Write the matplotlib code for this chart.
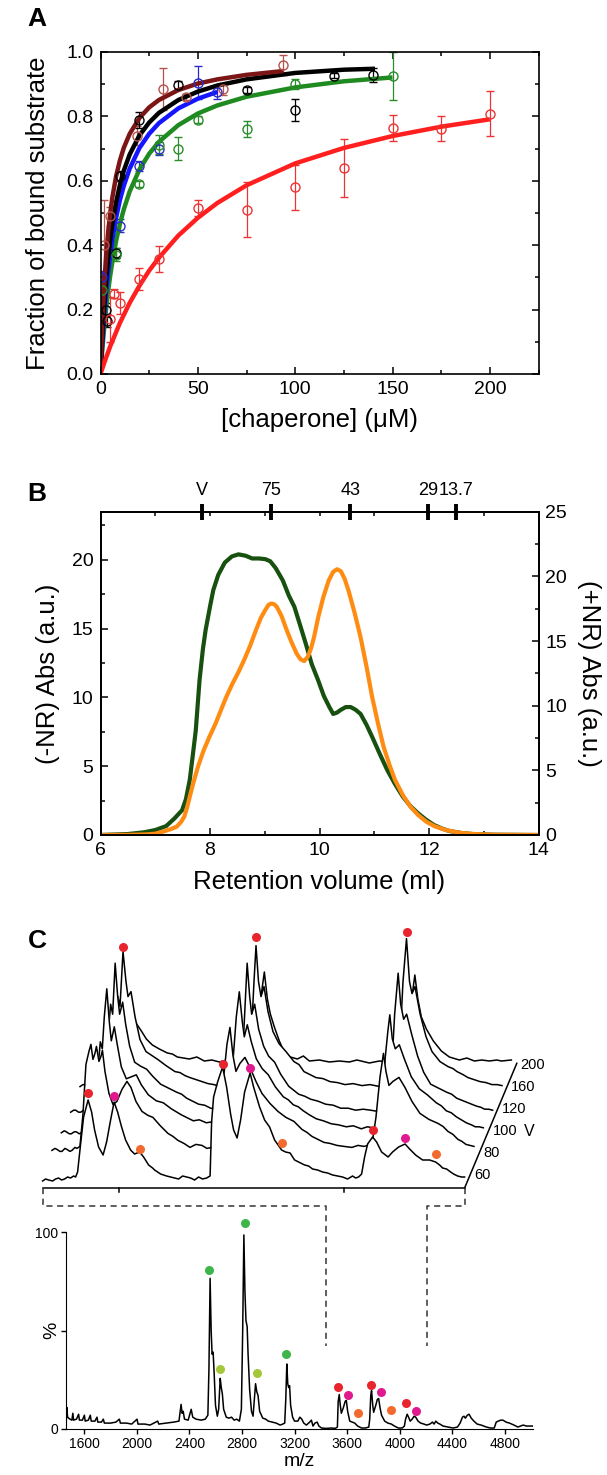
import matplotlib.pyplot as plt
import numpy as np
from matplotlib.lines import Line2D
from matplotlib.ticker import MultipleLocator

plt.rcParams['font.family'] = ['Liberation Sans', 'DejaVu Sans']

# ---------------- panel A data ----------------
brown_x = [2, 5, 19, 32, 44, 63, 94]
brown_y = [0.40, 0.49, 0.74, 0.885, 0.86, 0.885, 0.96]
brown_e = [0.14, 0.03, 0.03, 0.065, 0.01, 0.02, 0.03]
black_x = [3, 3.5, 8, 10, 20, 40, 75, 100, 120, 140]
black_y = [0.20, 0.165, 0.375, 0.615, 0.788, 0.897, 0.882, 0.82, 0.926, 0.929]
black_e = [0.02, 0.02, 0.015, 0.015, 0.025, 0.012, 0.008, 0.035, 0.008, 0.022]
blue_x = [1, 10, 20, 30, 50, 60]
blue_y = [0.30, 0.46, 0.645, 0.70, 0.905, 0.875]
blue_e = [0.02, 0.02, 0.015, 0.02, 0.05, 0.02]
green_x = [1, 8, 20, 30, 40, 50, 75, 100, 150]
green_y = [0.26, 0.37, 0.59, 0.712, 0.70, 0.79, 0.76, 0.90, 0.925]
green_e = [0.02, 0.02, 0.01, 0.03, 0.035, 0.01, 0.025, 0.015, 0.075]
red_x = [5, 7, 10, 20, 30, 50, 75, 100, 125, 150, 175, 200]
red_y = [0.17, 0.25, 0.22, 0.295, 0.357, 0.515, 0.51, 0.58, 0.64, 0.763, 0.762, 0.808]
red_e = [0.07, 0.015, 0.035, 0.035, 0.04, 0.025, 0.085, 0.07, 0.09, 0.04, 0.038, 0.07]

# fitted curves
fit_brown_x = [0, 1, 2, 3, 4, 5, 6, 8, 10, 12, 15, 20, 25, 30, 40, 50, 60, 75, 94]
fit_brown_y = [0, 0.168, 0.287, 0.376, 0.445, 0.50, 0.545, 0.614, 0.664, 0.703, 0.746, 0.795,
               0.828, 0.851, 0.882, 0.902, 0.915, 0.929, 0.941]
fit_black_x = [0, 1, 2, 3, 4, 5, 6, 8, 10, 12, 15, 20, 25, 30, 40, 50, 60, 75, 100, 125, 141]
fit_black_y = [0, 0.125, 0.222, 0.300, 0.364, 0.417, 0.462, 0.533, 0.588, 0.632, 0.682, 0.741,
               0.781, 0.811, 0.851, 0.877, 0.896, 0.915, 0.935, 0.945, 0.948]
fit_blue_x = [0, 1, 2, 3, 4, 5, 6, 8, 10, 12, 15, 20, 25, 30, 40, 50, 60]
fit_blue_y = [0, 0.105, 0.190, 0.261, 0.320, 0.370, 0.414, 0.485, 0.541, 0.585, 0.638, 0.702,
              0.746, 0.779, 0.825, 0.855, 0.876]
fit_green_x = [0, 1, 2, 3, 4, 5, 6, 8, 10, 12, 15, 20, 25, 30, 40, 50, 60, 75, 100, 125, 150]
fit_green_y = [0, 0.081, 0.150, 0.209, 0.261, 0.306, 0.345, 0.413, 0.467, 0.512, 0.567, 0.635,
               0.684, 0.721, 0.773, 0.809, 0.834, 0.861, 0.890, 0.909, 0.921]
fit_red_x = [0, 2, 5, 10, 15, 20, 25, 30, 40, 50, 60, 75, 100, 125, 150, 175, 200]
fit_red_y = [0, 0.036, 0.086, 0.159, 0.221, 0.274, 0.321, 0.361, 0.430, 0.485, 0.531, 0.586,
             0.654, 0.702, 0.739, 0.768, 0.791]

# ---------------- panel B data ----------------
nr_minus_x = [6.0, 6.5, 6.8, 7.0, 7.2, 7.35, 7.49, 7.56, 7.63, 7.68, 7.74, 7.81, 7.87, 7.92, 8.0,
              8.06, 8.15, 8.27, 8.4, 8.52, 8.65, 8.77, 8.9, 9.01, 9.1, 9.2, 9.33, 9.44, 9.54, 9.65,
              9.75, 9.86, 9.97, 10.08, 10.18, 10.25, 10.32, 10.39, 10.48, 10.57, 10.66, 10.75,
              10.86, 10.96, 11.1, 11.24, 11.38, 11.52, 11.66, 11.8, 11.95, 12.09, 12.23, 12.37,
              12.6, 12.8, 13.2, 14.0]
nr_minus_y = [0, 0.07, 0.2, 0.36, 0.65, 1.2, 1.8, 2.6, 4.0, 5.6, 7.6, 11.3, 13.5, 14.9, 16.6,
              17.8, 18.9, 19.8, 20.25, 20.4, 20.3, 20.1, 20.1, 20.05, 19.9, 19.4, 18.5, 17.4, 16.6,
              15.2, 13.9, 12.4, 11.3, 10.1, 9.3, 8.8, 8.9, 9.1, 9.3, 9.3, 9.1, 8.8, 8.0, 7.15, 5.9,
              4.7, 3.7, 2.8, 2.1, 1.58, 1.1, 0.73, 0.48, 0.29, 0.14, 0.07, 0.02, 0]
nr_plus_x = [6.0, 6.5, 6.86, 7.0, 7.14, 7.28, 7.39, 7.47, 7.53, 7.58, 7.63, 7.7, 7.78, 7.88, 7.99,
             8.1, 8.2, 8.3, 8.41, 8.52, 8.62, 8.73, 8.84, 8.93, 9.01, 9.07, 9.12, 9.17, 9.22, 9.31,
             9.40, 9.49, 9.58, 9.65, 9.72, 9.79, 9.85, 9.9, 9.98, 10.07, 10.17, 10.25, 10.32,
             10.39, 10.46, 10.53, 10.64, 10.75, 10.86, 10.96, 11.07, 11.17, 11.28, 11.38, 11.52,
             11.66, 11.8, 11.95, 12.1, 12.3, 12.55, 12.8, 13.2, 14.0]
nr_plus_y = [0, 0.01, 0.05, 0.1, 0.26, 0.45, 0.64, 1.0, 1.42, 2.1, 2.96, 4.1, 5.28, 6.5, 7.6,
             8.6, 9.66, 10.7, 11.7, 12.6, 13.5, 14.6, 15.85, 16.8, 17.4, 17.8, 17.9, 17.85, 17.65,
             16.9, 15.85, 14.9, 14.05, 13.6, 13.45, 13.8, 14.5, 15.3, 16.9, 18.4, 19.7, 20.35,
             20.55, 20.4, 19.8, 18.9, 17.2, 15.3, 13.0, 10.7, 8.6, 6.83, 5.4, 4.25, 3.1, 2.19,
             1.55, 1.03, 0.68, 0.39, 0.18, 0.08, 0.02, 0]
calib_pos = [7.86, 9.12, 10.56, 11.98, 12.5]
calib_lab = ['V', '75', '43', '29', '13.7']

# ---------------- panel C data ----------------
volt_labels = ['60', '80', '100', '120', '160', '200']
wf_60 = [(3440, 1), (3446, 3), (3452, 2), (3460, 1), (3466, 3), (3472, 4), (3478, 2), (3484, 3),
         (3490, 5), (3496, 4), (3502, 6), (3506, 5), (3510, 10),
         (3516, 38), (3522, 65), (3531, 82), (3538, 70), (3544, 52), (3552, 35), (3561, 27),
         (3568, 40), (3576, 62), (3583, 80), (3590, 70), (3598, 55), (3606, 42), (3616, 32),
         (3624, 28), (3634, 30), (3642, 25), (3652, 17), (3660, 14), (3664, 12), (3670, 10),
         (3676, 8), (3682, 7), (3688, 6), (3696, 5), (3704, 4), (3712, 3), (3720, 6), (3728, 5),
         (3736, 4), (3744, 2), (3752, 5), (3760, 3), (3768, 4), (3775, 6), (3778, 60), (3782, 85),
         (3790, 100), (3800, 115), (3808, 95), (3816, 68), (3822, 52), (3829, 44), (3836, 62),
         (3844, 90), (3855, 109), (3862, 95), (3874, 75), (3884, 62), (3894, 55), (3904, 42),
         (3918, 32), (3926, 30), (3935, 29), (3944, 22), (3952, 20), (3964, 17), (3972, 16),
         (3980, 13), (3990, 12), (4000, 10), (4010, 9), (4020, 7), (4030, 6), (4040, 5),
         (4050, 3), (4060, 6), (4066, 4), (4072, 5), (4078, 8), (4084, 25), (4090, 38),
         (4100, 45), (4108, 40), (4118, 30), (4131, 25), (4140, 30), (4152, 35), (4165, 38),
         (4174, 33), (4186, 27), (4200, 22), (4214, 22), (4226, 20), (4234, 17), (4240, 14),
         (4248, 13), (4256, 10), (4262, 8), (4270, 6), (4278, 5), (4284, 5)]
wf_80 = [(3440, 9), (3446, 11), (3450, 10), (3456, 8), (3460, 8), (3466, 11), (3470, 10),
         (3476, 8), (3480, 9), (3486, 12), (3490, 11), (3496, 13),
         (3502, 45), (3508, 95), (3514, 108), (3518, 115), (3522, 100), (3526, 106), (3529, 113),
         (3534, 98), (3538, 103), (3541, 109), (3546, 88), (3554, 66), (3562, 55), (3570, 58),
         (3580, 70), (3590, 78), (3598, 72), (3608, 58), (3620, 48), (3632, 44), (3642, 42),
         (3656, 34), (3672, 26), (3682, 23), (3692, 19), (3704, 16), (3716, 12), (3728, 15),
         (3740, 14), (3750, 11), (3760, 12), (3766, 14), (3772, 13),
         (3778, 40), (3784, 85), (3790, 115), (3796, 132), (3802, 104), (3808, 88), (3816, 96),
         (3826, 102), (3836, 92), (3848, 78), (3860, 66), (3876, 56), (3892, 48), (3908, 42),
         (3924, 38), (3940, 30), (3950, 27), (3960, 23), (3972, 20), (3984, 17), (3996, 16),
         (4010, 14), (4024, 13), (4040, 12), (4052, 14), (4064, 13),
         (4080, 15), (4088, 42), (4096, 82), (4103, 106), (4108, 88), (4114, 74), (4122, 78),
         (4134, 82), (4146, 72), (4160, 58), (4176, 46), (4194, 40), (4212, 36), (4222, 33),
         (4232, 28), (4242, 25), (4252, 20), (4260, 18), (4268, 15), (4276, 14), (4284, 13)]
wf_100 = [(3440, 4), (3446, 6), (3450, 5), (3456, 3), (3460, 3), (3466, 5), (3470, 5),
          (3476, 3), (3480, 4), (3486, 7), (3490, 6), (3496, 5), (3500, 7), (3506, 20),
          (3512, 60), (3518, 95), (3522, 88), (3526, 120), (3531, 148), (3536, 115), (3540, 96),
          (3546, 110), (3552, 92), (3560, 70), (3570, 58), (3580, 60), (3590, 62), (3600, 52),
          (3614, 42), (3630, 36), (3644, 34), (3660, 28), (3670, 25), (3680, 22), (3692, 19),
          (3704, 16), (3716, 17), (3730, 14), (3742, 15), (3756, 12), (3764, 13), (3772, 10),
          (3778, 30), (3784, 80), (3790, 120), (3796, 145), (3802, 115),
          (3806, 100), (3812, 112), (3820, 95), (3830, 78), (3842, 68), (3854, 62), (3868, 50),
          (3884, 40), (3894, 37), (3904, 32), (3914, 30), (3924, 26), (3936, 22), (3950, 18),
          (3964, 16), (3980, 13), (3994, 12), (4010, 10), (4024, 11), (4040, 8), (4052, 10),
          (4064, 9), (4076, 12), (4082, 40), (4088, 80), (4093, 105), (4097, 122), (4102, 98),
          (4108, 88), (4116, 92), (4126, 78), (4140, 60), (4156, 48), (4172, 42), (4190, 34),
          (4200, 31), (4210, 26), (4220, 24), (4230, 20), (4240, 17), (4250, 14), (4260, 12),
          (4268, 10), (4276, 10), (4284, 9)]
wf_120 = [(3440, 2), (3446, 4), (3450, 4), (3456, 2), (3460, 2), (3466, 4), (3470, 3),
          (3476, 1), (3480, 2), (3486, 4), (3490, 4), (3496, 5), (3500, 6), (3508, 30),
          (3514, 75), (3520, 110), (3524, 100), (3529, 151), (3534, 118), (3538, 100), (3544, 112),
          (3550, 90), (3558, 68), (3568, 52), (3580, 48), (3592, 45), (3604, 38), (3620, 30),
          (3636, 26), (3652, 22), (3662, 20), (3672, 16), (3684, 13), (3696, 10), (3708, 9),
          (3720, 6), (3732, 5), (3744, 3), (3754, 4), (3764, 2),
          (3776, 8), (3782, 40), (3788, 100), (3793, 151), (3798, 118), (3802, 100), (3808, 110),
          (3816, 85), (3826, 68), (3836, 58), (3848, 52), (3860, 40), (3876, 28), (3886, 24),
          (3896, 20), (3908, 18), (3920, 15), (3935, 13), (3950, 10), (3965, 9), (3980, 6),
          (3995, 6), (4010, 4), (4025, 5), (4040, 4), (4052, 3), (4064, 5), (4076, 10),
          (4082, 45), (4088, 100), (4095, 141), (4100, 110), (4106, 95), (4112, 100), (4122, 80),
          (4134, 58), (4146, 42), (4160, 30), (4176, 26), (4192, 22), (4202, 20), (4212, 16),
          (4222, 14), (4232, 12), (4242, 10), (4252, 8), (4260, 7), (4268, 5), (4276, 5),
          (4284, 4)]
wf_160 = [(3440, 5), (3446, 7), (3450, 7), (3456, 5), (3460, 5), (3466, 7), (3470, 6),
          (3476, 4), (3480, 5), (3486, 7), (3490, 7), (3496, 6), (3500, 8), (3506, 30),
          (3512, 80), (3516, 95), (3520, 85), (3526, 140), (3532, 110), (3536, 95), (3542, 100),
          (3550, 75), (3560, 52), (3572, 40), (3584, 36), (3596, 32), (3612, 26), (3630, 20),
          (3640, 19), (3650, 16), (3660, 14), (3672, 12), (3684, 10), (3696, 8), (3708, 7),
          (3720, 5), (3732, 6), (3744, 4), (3756, 5), (3770, 4), (3776, 8),
          (3782, 50), (3788, 110), (3792, 146), (3797, 110), (3802, 95), (3808, 105), (3816, 80),
          (3826, 60), (3838, 48), (3852, 40), (3868, 30), (3878, 27), (3888, 20), (3900, 17),
          (3912, 14), (3926, 13), (3940, 10), (3955, 9), (3970, 7), (3986, 8), (4004, 6),
          (4020, 7), (4040, 5), (4052, 6), (4064, 6), (4074, 10), (4080, 50), (4086, 110),
          (4093, 153), (4099, 110), (4104, 98), (4110, 105), (4120, 78), (4132, 55), (4144, 40),
          (4160, 30), (4176, 25), (4186, 23), (4194, 20), (4206, 17), (4216, 14), (4228, 12),
          (4240, 10), (4252, 9), (4264, 7), (4274, 7), (4284, 6)]
wf_200 = [(3440, 6), (3446, 8), (3450, 8), (3456, 6), (3460, 6), (3466, 8), (3470, 7),
          (3476, 5), (3480, 6), (3486, 8), (3490, 8), (3496, 7), (3500, 9), (3508, 25),
          (3514, 45), (3520, 52), (3524, 60), (3530, 48), (3536, 44), (3544, 38), (3554, 30),
          (3566, 24), (3580, 20), (3596, 16), (3606, 15), (3616, 12), (3628, 11), (3640, 10),
          (3655, 12), (3670, 8), (3685, 9), (3700, 7), (3715, 9), (3730, 7), (3745, 8),
          (3760, 8), (3772, 10), (3778, 40), (3784, 75), (3790, 97), (3796, 70),
          (3802, 55), (3810, 42), (3820, 28), (3832, 14), (3842, 12), (3856, 10), (3868, 13),
          (3880, 8), (3900, 9), (3920, 7), (3940, 8), (3960, 7), (3975, 9), (4000, 6),
          (4020, 8), (4040, 7), (4055, 8), (4064, 7), (4074, 10), (4080, 40),
          (4086, 75), (4091, 94), (4097, 70), (4104, 52), (4114, 40), (4128, 28), (4144, 18),
          (4160, 12), (4180, 9), (4195, 11), (4210, 8), (4225, 9), (4240, 8), (4255, 9),
          (4264, 8), (4284, 9)]
wf_traces = [wf_60, wf_80, wf_100, wf_120, wf_160, wf_200]
wf_ticks = [3592, 4042]
# marked peaks: (trace index, m/z, height, colour)
wf_dots = [(0, 3531, 89, '#e8242c'), (0, 3583, 86, '#e0198f'), (0, 3634, 33, '#f26a2e'),
           (0, 3800, 118, '#e8242c'), (0, 3855, 114, '#e0198f'), (0, 3918, 39, '#f26a2e'),
           (0, 4100, 52, '#e8242c'), (0, 4165, 44, '#e0198f'), (0, 4226, 28, '#f26a2e'),
           (4, 3526, 145, '#e8242c'), (4, 3792, 155, '#e8242c'), (4, 4093, 160, '#e8242c')]

spec_mz = [1462, 1466, 1472, 1490, 1505, 1512, 1518, 1540, 1556, 1562, 1585, 1600, 1606, 1630,
           1645, 1652, 1680, 1696, 1702, 1730, 1744, 1752, 1800, 1840, 1866, 1874, 1920, 1960,
           2001, 2008, 2060, 2100, 2158, 2166, 2220, 2280, 2320, 2336, 2344, 2352, 2362, 2390,
           2413, 2425, 2450, 2490, 2520, 2540, 2548, 2557, 2565, 2572, 2580, 2588, 2598, 2612,
           2622, 2634, 2642, 2650, 2660, 2680, 2700, 2720, 2740, 2760, 2780, 2795, 2805, 2814,
           2822, 2830, 2839, 2846, 2858, 2872, 2884, 2893, 2903, 2912, 2922, 2934, 2958, 2980,
           3000, 3030, 3060, 3090, 3110, 3125, 3133, 3141, 3148, 3155, 3162, 3170, 3185, 3200,
           3225, 3240, 3255, 3270, 3290, 3315, 3328, 3340, 3355, 3372, 3385, 3405, 3440, 3480,
           3510, 3526, 3532, 3540, 3548, 3556, 3572, 3585, 3594, 3604, 3620, 3640, 3658, 3680,
           3710, 3740, 3765, 3772, 3780, 3786, 3795, 3802, 3818, 3830, 3840, 3850, 3862, 3886,
           3910, 3937, 3960, 3990, 4020, 4036, 4045, 4057, 4068, 4080, 4095, 4110, 4122, 4140,
           4160, 4185, 4205, 4230, 4250, 4262, 4275, 4290, 4306, 4330, 4370, 4407, 4440, 4460,
           4478, 4490, 4500, 4515, 4528, 4545, 4565, 4590, 4620, 4660, 4690, 4720, 4735, 4750,
           4770, 4786, 4810, 4836, 4870, 4900, 4920, 4940, 4965, 4990, 5010]
spec_pct = [4, 11, 6, 5, 4.5, 8, 4.5, 5, 7.5, 4.5, 4.5, 7, 4, 4.5, 7, 4, 4, 6, 3.5, 3.5, 5, 3, 3,
            3.5, 5, 3, 3, 2.5, 5, 2.5, 2.5, 2, 4, 2.5, 3, 3.5, 4, 12.5, 8, 9, 5, 4.5, 10, 6, 5,
            4.5, 5, 7, 30, 76.5, 50, 38, 39, 28, 12, 6.5, 10, 25.7, 21, 18, 10, 6, 5.5, 6, 4.5, 5,
            4, 10, 50, 98.5, 70, 55, 52, 38, 20, 9, 6.5, 14, 23, 19, 17, 9, 5.5, 5, 4, 3.5, 3, 2,
            2.5, 3, 15, 33, 23, 21, 22, 12, 6, 4, 4, 6, 5, 3, 2, 3.5, 4.5, 1.5, 3, 3.5, 1.5, 0.5,
            0.3, 0.5, 0.3, 1, 14, 17.5, 12, 8, 11, 14, 14.5, 9, 4, 3.5, 3, 1.5, 0.5, 0.5, 1, 5, 17,
            19.5, 12, 8.5, 12, 15, 15.5, 11, 7, 4, 3, 2.5, 1.5, 0.5, 0.5, 1.5, 5, 7.5, 6, 4, 5,
            6.5, 6, 4, 3, 2.5, 2, 2.5, 3.5, 2.5, 4, 3, 2.5, 1.5, 1, 0.5, 1, 3, 6, 6.5, 5.5, 7, 7.5,
            5.5, 4, 2.5, 2, 1, 0.5, 0.5, 3.5, 4, 4.5, 4.5, 3.5, 3, 2, 1, 1.5, 2, 1.5, 1.5, 1.5]
spec_dot_mz = [2550, 2820, 3137, 2633, 2913, 3529, 3780, 4046, 3609, 3857, 4125, 3681, 3933]
spec_dot_pct = [80.7, 104.7, 37.9, 30.6, 28.3, 21.2, 22.3, 13, 17.3, 18.6, 9.3, 8.3, 9.6]
spec_dot_col = ['#3db54a'] * 3 + ['#a5c83a'] * 2 + ['#e8242c'] * 3 + ['#e0198f'] * 3 + ['#f26a2e'] * 2
bracket_mz = [3438, 4205]
bracket_pct = 42

# ---------------- figure ----------------
W, H = 607, 1475
fig = plt.figure(figsize=(W / 100, H / 100), dpi=100)


def rect(l, t, r, b):
    return [l / W, 1 - b / H, (r - l) / W, (b - t) / H]


# panel A
axA = fig.add_axes(rect(100.5, 52, 538.5, 374))
pts = [(brown_x, brown_y, brown_e, '#b5534c'), (black_x, black_y, black_e, 'black'),
       (blue_x, blue_y, blue_e, '#2a2ac8'), (green_x, green_y, green_e, '#2a8c2a'),
       (red_x, red_y, red_e, '#ec3434')]
for xs, ys, es, c in pts:
    axA.errorbar(xs, ys, yerr=es, fmt='o', mfc='none', mec=c, ecolor=c, ms=6.5, mew=1.0,
                 elinewidth=0.9, capsize=3, capthick=0.9)
fits = [(fit_green_x, fit_green_y, '#1f8a1f'), (fit_blue_x, fit_blue_y, '#1515ff'),
        (fit_black_x, fit_black_y, 'black'), (fit_brown_x, fit_brown_y, '#7c1616'),
        (fit_red_x, fit_red_y, '#ff1f1f')]
for xs, ys, c in fits:
    axA.plot(xs, ys, color=c, lw=3.2, solid_capstyle='butt')
axA.set_xlim(0, 225)
axA.set_ylim(0, 1.0)
axA.set_xticks([0, 50, 100, 150, 200])
axA.set_yticks(np.arange(0, 1.01, 0.2))
axA.set_yticklabels(['0.0', '0.2', '0.4', '0.6', '0.8', '1.0'])
axA.xaxis.set_minor_locator(MultipleLocator(25))
axA.yaxis.set_minor_locator(MultipleLocator(0.1))
axA.tick_params(which='both', direction='in', top=True, right=True, labelsize=14, width=1.1)
axA.tick_params(which='major', length=5, pad=5)
axA.tick_params(which='minor', length=3)
axA.set_ylabel('Fraction of bound substrate', fontsize=18.5, va='center')
axA.yaxis.set_label_coords(-0.142, 0.5)
axA.set_xlabel('[chaperone] (\u03bcM)', fontsize=18.5, va='center')
axA.xaxis.set_label_coords(0.5, -0.143)
for s in axA.spines.values():
    s.set_linewidth(1.2)

# panel B
axB = fig.add_axes(rect(100.5, 511.7, 538.5, 835))
axB.plot(nr_minus_x, nr_minus_y, color='#17500f', lw=3)
axB.set_xlim(6, 14)
axB.set_ylim(0, 23.5)
axB.set_xticks([6, 8, 10, 12, 14])
axB.set_yticks([0, 5, 10, 15, 20])
axB.xaxis.set_minor_locator(MultipleLocator(1))
axB.yaxis.set_minor_locator(MultipleLocator(2.5))
axB.tick_params(which='both', direction='in', labelsize=14, width=1.1)
axB.tick_params(which='major', length=5, pad=5)
axB.tick_params(which='minor', length=3)
axB.set_ylabel('(-NR) Abs (a.u.)', fontsize=18.5, va='center')
axB.yaxis.set_label_coords(-0.119, 0.5)
axB.set_xlabel('Retention volume (ml)', fontsize=18.5, va='center')
axB.xaxis.set_label_coords(0.5, -0.145)

axR = axB.twinx()
axR.plot(nr_plus_x, nr_plus_y, color='#ff8c12', lw=3)
axR.set_ylim(0, 25)
axR.set_yticks([0, 5, 10, 15, 20, 25])
axR.yaxis.set_minor_locator(MultipleLocator(2.5))
axR.tick_params(which='both', direction='in', labelsize=14, width=1.1)
axR.tick_params(which='major', length=5, pad=5)
axR.tick_params(which='minor', length=3)
axR.set_ylabel('(+NR) Abs (a.u.)', fontsize=18.5, rotation=270, va='center')
axR.yaxis.set_label_coords(1.115, 0.5)

axT = axB.twiny()
axT.set_xlim(6, 14)
axT.set_xticks(calib_pos)
axT.set_xticklabels(calib_lab)
axT.xaxis.set_minor_locator(MultipleLocator(1))
axT.tick_params(which='major', direction='inout', length=11, width=2.8, labelsize=13, pad=4)
axT.tick_params(which='minor', direction='in', length=3, width=1.1)
for a in (axB, axR, axT):
    for s in a.spines.values():
        s.set_linewidth(1.2)

# panel C waterfall
axW = fig.add_axes(rect(30, 915, 570, 1200))
axW.set_xlim(3414.8, 4494.8)
axW.set_ylim(-18, 267)
axW.axis('off')
dx_mz, dy_h = 18.7, 22.6
for i in range(len(wf_traces) - 1, -1, -1):
    tr = wf_traces[i]
    xs = np.array([p[0] for p in tr]) + i * dx_mz
    ys = np.array([p[1] for p in tr]) + i * dy_h
    z = 2 * (10 - i)
    axW.fill_between(xs, ys, -6, color='white', lw=0, zorder=z)
    axW.plot(xs, ys, color='black', lw=1.1, zorder=z + 1)
x_end = wf_60[-1][0]
axW.plot([wf_60[0][0], x_end], [-6, -6], color='black', lw=1.1, zorder=40)
axW.plot([x_end, x_end + 104.4], [-6, 118.7], color='black', lw=1.1, zorder=40)
for t in wf_ticks:
    axW.plot([t, t], [-6, -10], color='black', lw=1.1, zorder=40)
for i, lab in enumerate(volt_labels):
    ly = 7 + 22 * i
    axW.text(4302.8 + 0.837 * (ly - 7), ly, lab, fontsize=10.5, ha='left', va='center', zorder=45)
axW.text(4403.6, 50, 'V', fontsize=11.5, ha='left', va='center', zorder=45)
for ti, mz, hh, c in wf_dots:
    axW.plot(mz + ti * dx_mz, hh + ti * dy_h, 'o', color=c, ms=6.5, mew=0, zorder=50)

# panel C spectrum
axS = fig.add_axes(rect(66, 1232, 533, 1429))
axS.plot(spec_mz, spec_pct, color='black', lw=1.1)
for mz, p, c in zip(spec_dot_mz, spec_dot_pct, spec_dot_col):
    axS.plot(mz, p, 'o', color=c, ms=6.5, mew=0, clip_on=False, zorder=5)
axS.set_xlim(1460, 5015)
axS.set_ylim(0, 100)
axS.set_xticks(np.arange(1600, 4801, 400))
axS.set_yticks([0, 50, 100])
axS.set_yticklabels(['0', '', '100'])
axS.spines['top'].set_visible(False)
axS.spines['right'].set_visible(False)
axS.tick_params(direction='out', length=3.5, width=1.0, labelsize=10, pad=2)
axS.set_xlabel('m/z', fontsize=14, va='center')
axS.xaxis.set_label_coords(0.5, -0.165)
axS.set_ylabel('%', fontsize=14, va='center')
axS.yaxis.set_label_coords(-0.03, 0.5)

# dashed connectors between zoomed traces and spectrum
inv = fig.transFigure.inverted()
for wx, sx in zip([wf_60[0][0], x_end], bracket_mz):
    x0, y0 = axW.transData.transform((wx, -6))
    x1, y1 = axS.transData.transform((sx, bracket_pct))
    ym = y0 - 17.5
    pp = inv.transform([(x0, y0), (x0, ym), (x1, ym), (x1, y1)])
    fig.add_artist(Line2D(pp[:, 0], pp[:, 1], transform=fig.transFigure, ls=(0, (4, 3)),
                          lw=1.1, color='#333333'))

for lab, px, py in [('A', 37, 19), ('B', 37, 494), ('C', 37, 941)]:
    fig.text(px / W, 1 - py / H, lab, fontsize=19, fontweight='bold', ha='center', va='center')

fig.savefig('out.png', dpi=100)
